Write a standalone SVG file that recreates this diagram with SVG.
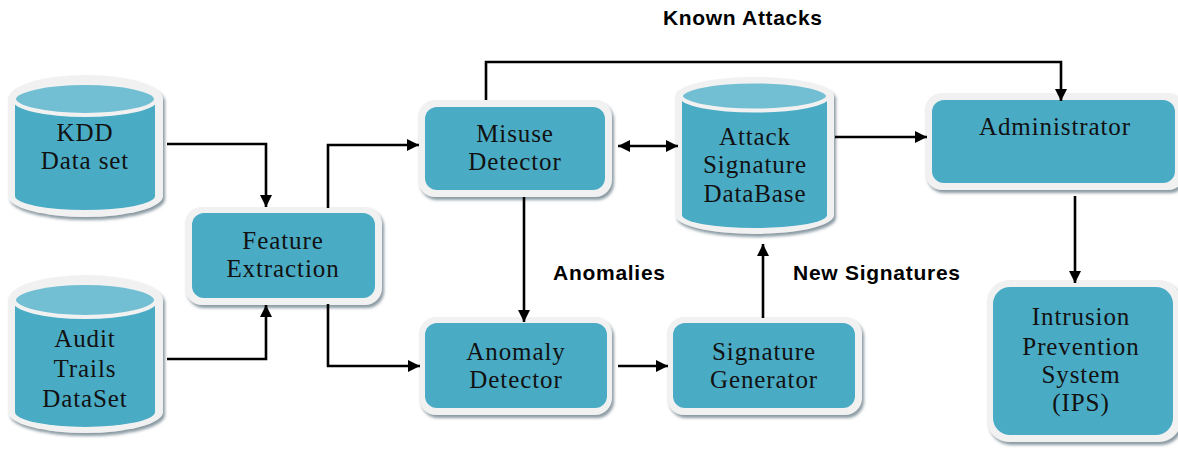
<svg xmlns="http://www.w3.org/2000/svg" width="1178" height="449" viewBox="0 0 1178 449">
<defs>
<filter id="sh" x="-10%" y="-10%" width="130%" height="130%">
<feDropShadow dx="2" dy="3" stdDeviation="1.5" flood-color="#7d8f99" flood-opacity="0.9"/>
</filter>
<marker id="ah" markerWidth="14" markerHeight="14" refX="12" refY="6" orient="auto-start-reverse" markerUnits="userSpaceOnUse">
<path d="M0,0 L12,6 L0,12 Z" fill="#000"/>
</marker>
<style>
.frame{fill:#f1f1f1;filter:url(#sh)}
.body{fill:#4aabc5}
.cylt{fill:#72bfd3;stroke:#f1f1f1;stroke-width:4}
.t{font-family:"Liberation Serif","Times New Roman",serif;font-size:25px;letter-spacing:0.9px;fill:#111;text-anchor:middle}
.lbl{font-family:"Liberation Sans",Arial,sans-serif;font-weight:bold;font-size:21px;fill:#000}
.c{fill:none;stroke:#000;stroke-width:2.6}
</style>
</defs>
<rect width="1178" height="449" fill="#fff"/>

<g id="kdd">
<path class="frame" d="M8,99 A77.5,24 0 0 1 163,99 L163,196 A77.5,21 0 0 1 8,196 Z"/>
<path class="body" d="M15,99 L155,99 L155,196 A70,14 0 0 1 15,196 Z"/>
<ellipse class="cylt" cx="85" cy="99" rx="71" ry="16"/>
<text class="t" x="85" y="141">KDD</text>
<text class="t" x="85" y="169">Data set</text>
</g>

<g id="audit">
<path class="frame" d="M8,300 A77.5,25 0 0 1 163,300 L163,412 A77.5,21 0 0 1 8,412 Z"/>
<path class="body" d="M15,300 L155,300 L155,412 A70,15 0 0 1 15,412 Z"/>
<ellipse class="cylt" cx="85" cy="300" rx="71" ry="17"/>
<text class="t" x="85" y="347">Audit</text>
<text class="t" x="85" y="377">Trails</text>
<text class="t" x="85" y="407">DataSet</text>
</g>

<g id="feature">
<rect class="frame" x="185" y="207" width="197" height="98" rx="17"/>
<rect class="body" x="192" y="213" width="183" height="85" rx="12"/>
<text class="t" x="283" y="249">Feature</text>
<text class="t" x="283" y="277">Extraction</text>
</g>

<g id="misuse">
<rect class="frame" x="418" y="100" width="194" height="97" rx="17"/>
<rect class="body" x="425" y="107" width="180" height="83" rx="12"/>
<text class="t" x="515" y="142">Misuse</text>
<text class="t" x="515" y="170">Detector</text>
</g>

<g id="attackdb">
<path class="frame" d="M675,96 A79.5,19 0 0 1 834,96 L834,215 A79.5,19 0 0 1 675,215 Z"/>
<path class="body" d="M682,96 L827,96 L827,215 A72.5,13 0 0 1 682,215 Z"/>
<ellipse class="cylt" cx="754.5" cy="96" rx="73.5" ry="14.5"/>
<text class="t" x="755" y="145">Attack</text>
<text class="t" x="755" y="173">Signature</text>
<text class="t" x="755" y="202">DataBase</text>
</g>

<g id="admin">
<rect class="frame" x="925" y="93" width="260" height="97" rx="17"/>
<rect class="body" x="932" y="100" width="243" height="83" rx="12"/>
<text class="t" x="1055" y="135">Administrator</text>
</g>

<g id="ips">
<rect class="frame" x="987" y="280" width="194" height="162" rx="22"/>
<rect class="body" x="993" y="287" width="180" height="148" rx="17"/>
<text class="t" x="1081" y="325">Intrusion</text>
<text class="t" x="1081" y="355">Prevention</text>
<text class="t" x="1081" y="383">System</text>
<text class="t" x="1081" y="411">(IPS)</text>
</g>

<g id="anomaly">
<rect class="frame" x="419" y="317" width="193" height="98" rx="17"/>
<rect class="body" x="425" y="323" width="182" height="85" rx="12"/>
<text class="t" x="516" y="360">Anomaly</text>
<text class="t" x="516" y="388">Detector</text>
</g>

<g id="siggen">
<rect class="frame" x="667" y="317" width="195" height="98" rx="17"/>
<rect class="body" x="673" y="323" width="182" height="85" rx="12"/>
<text class="t" x="764" y="360">Signature</text>
<text class="t" x="764" y="388">Generator</text>
</g>

<g id="connectors">
<path class="c" d="M167,144 H266 V207" marker-end="url(#ah)"/>
<path class="c" d="M167,359 H266 V305" marker-end="url(#ah)"/>
<path class="c" d="M328,208 V145 H419" marker-end="url(#ah)"/>
<path class="c" d="M328,304 V366 H420" marker-end="url(#ah)"/>
<path class="c" d="M618,146 H678" marker-start="url(#ah)" marker-end="url(#ah)"/>
<path class="c" d="M524,197 V322" marker-end="url(#ah)"/>
<path class="c" d="M618,366 H668" marker-end="url(#ah)"/>
<path class="c" d="M763,318 V244" marker-end="url(#ah)"/>
<path class="c" d="M835,137 H927" marker-end="url(#ah)"/>
<path class="c" d="M486,100 V62 H1061 V101" marker-end="url(#ah)"/>
<path class="c" d="M1075,196 V283" marker-end="url(#ah)"/>
</g>

<g id="labels">
<text class="lbl" x="663" y="25" textLength="159">Known Attacks</text>
<text class="lbl" x="553" y="280" textLength="112">Anomalies</text>
<text class="lbl" x="793" y="280" textLength="167">New Signatures</text>
</g>
</svg>
